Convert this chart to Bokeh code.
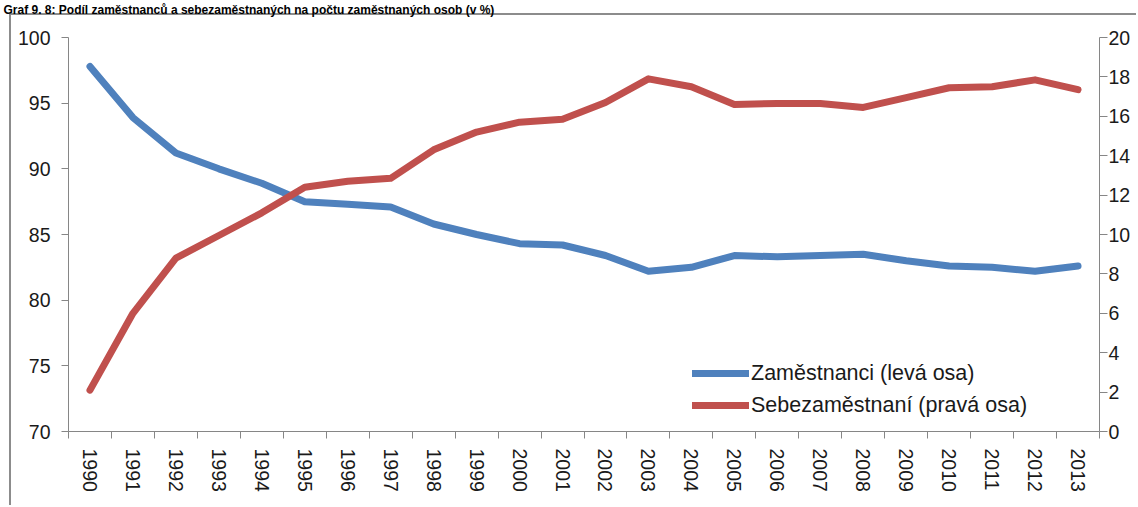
from bokeh.plotting import figure
from bokeh.models import (Range1d, LinearAxis, FixedTicker, Legend, LegendItem,
                          Title, ColumnDataSource)
from bokeh.embed import file_html
from bokeh.resources import INLINE

# ---- data ----
years = [str(y) for y in range(1990, 2014)]
zamestnanci = [97.8, 93.9, 91.2, 90.0, 88.9, 87.5, 87.3, 87.1, 85.8, 85.0, 84.3, 84.2,
               83.4, 82.2, 82.5, 83.4, 83.3, 83.4, 83.5, 83.0, 82.6, 82.5, 82.2, 82.6]
sebezamestnani = [2.1, 6.0, 8.8, 9.95, 11.1, 12.4, 12.7, 12.85, 14.3, 15.2, 15.7, 15.85,
                  16.7, 17.9, 17.5, 16.6, 16.65, 16.65, 16.45, 16.95, 17.45, 17.5, 17.85, 17.35]
left_ticks = [70, 75, 80, 85, 90, 95, 100]
right_ticks = [0, 2, 4, 6, 8, 10, 12, 14, 16, 18, 20]
title_text = "Graf 9. 8: Podíl zaměstnanců a sebezaměstnaných na počtu zaměstnaných osob (v %)"
legend_labels = ["Zaměstnanci (levá osa)", "Sebezaměstnaní (pravá osa)"]

idx = list(range(len(years)))
src = ColumnDataSource(dict(x=idx, zam=zamestnanci, seb=sebezamestnani))

FONT = "Liberation Sans"
TXT = "#1a1a1a"
AX = "#868686"
FRAME = "#8c8c8c"
TICK_FS = "19.5px"

p = figure(width=1136, height=505, x_range=Range1d(-0.5, len(years) - 0.5),
           y_range=Range1d(70, 100), output_backend="svg", toolbar_location=None,
           min_border_left=68, min_border_right=37, min_border_top=37,
           min_border_bottom=74, x_axis_location=None, y_axis_location=None,
           title_location=None)
p.extra_y_ranges = {"right": Range1d(0, 20)}
p.xgrid.visible = False
p.ygrid.visible = False
p.outline_line_color = None
p.background_fill_color = None
p.border_fill_color = None
# grey border of the chart area (left and top edges visible in the crop)
p.styles = {
    "background-color": "white",
    "background-image": ("linear-gradient(%s, %s), linear-gradient(%s, %s)"
                         % (FRAME, FRAME, FRAME, FRAME)),
    "background-position": "9px 13px, 9px 13px",
    "background-size": "2px 100%, 100% 2px",
    "background-repeat": "no-repeat, no-repeat",
}

# spacer nearest to the plot area, then the chart title at the very top
p.add_layout(Title(text=" ", text_font=FONT, text_font_size="17px", standoff=0), "above")
p.add_layout(Title(text=title_text, text_font=FONT, text_font_style="bold",
                   text_font_size="12px", text_color="#000000", align="left",
                   offset=-65, standoff=0), "above")

def style(ax):
    ax.axis_line_color = AX
    ax.major_tick_line_color = AX
    ax.minor_tick_line_color = AX
    ax.major_label_text_font = FONT
    ax.major_label_text_font_size = TICK_FS
    ax.major_label_text_color = TXT

# bottom axis: labels at category centres, tick marks between categories
xax = LinearAxis(ticker=FixedTicker(ticks=idx, minor_ticks=[i - 0.5 for i in range(len(years) + 1)]),
                 major_label_overrides={i: y for i, y in enumerate(years)},
                 major_label_orientation="vertical")
style(xax)
xax.major_tick_out = 0
xax.major_tick_in = 0
xax.minor_tick_out = 7
xax.minor_tick_in = 0
xax.major_label_standoff = 10
p.add_layout(xax, "below")

lax = LinearAxis(ticker=FixedTicker(ticks=left_ticks))
style(lax)
lax.major_tick_out = 7
lax.major_tick_in = 0
lax.minor_tick_out = 0
lax.minor_tick_in = 0
lax.major_label_standoff = 11
p.add_layout(lax, "left")

rax = LinearAxis(y_range_name="right", ticker=FixedTicker(ticks=right_ticks))
style(rax)
rax.major_tick_out = 8
rax.major_tick_in = 0
rax.minor_tick_out = 0
rax.minor_tick_in = 0
rax.major_label_standoff = 1
p.add_layout(rax, "right")

r1 = p.line("x", "zam", source=src, line_color="#4F81BD", line_width=7,
            line_cap="round", line_join="round")
r2 = p.line("x", "seb", source=src, y_range_name="right", line_color="#C0504D",
            line_width=7, line_cap="round", line_join="round")

legend = Legend(items=[LegendItem(label=legend_labels[0], renderers=[r1]),
                       LegendItem(label=legend_labels[1], renderers=[r2])],
                location=(624, 13.5), glyph_width=57, glyph_height=20, spacing=7,
                label_standoff=2, padding=0, margin=0, border_line_color=None,
                background_fill_alpha=0, label_text_font=FONT,
                label_text_font_size="21.5px", label_text_color=TXT)
p.add_layout(legend)

open("out.html", "w").write(file_html(p, INLINE))
